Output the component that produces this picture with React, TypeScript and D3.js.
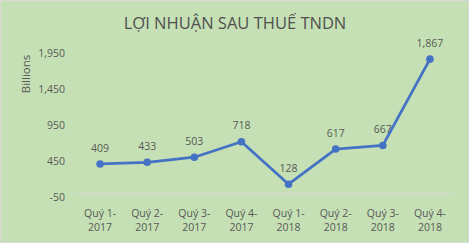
import React from "react";
import * as d3 from "d3";

const categories = ["Quý 1-2017", "Quý 2-2017", "Quý 3-2017", "Quý 4-2017", "Quý 1-2018", "Quý 2-2018", "Quý 3-2018", "Quý 4-2018"];
const profits = [409, 433, 503, 718, 128, 617, 667, 1867];
const yTicks = [-50, 450, 950, 1450, 1950];
const title = "LỢI NHUẬN SAU THUẾ TNDN";
const unitLabel = "Billions";

const W = 469;
const H = 243;
const FONT = "'Open Sans', 'Noto Sans', sans-serif";
const TEXT = "#595959";

export default function App() {
  const x = d3.scaleBand<string>().domain(categories).range([76.5, 453.5]);
  const y = d3.scaleLinear().domain([-50, 1950]).range([197, 53.2]);
  const line = d3
    .line<number>()
    .x((_, i) => (x(categories[i]) as number) + x.bandwidth() / 2)
    .y((d) => y(d));
  const f = d3.format(",");
  const fmt = (v: number) => f(v).replace("\u2212", "-");

  return (
    <svg width={W} height={H} style={{ position: "absolute", left: 0, top: 0 }} fontFamily={FONT}>
      <rect x={0.5} y={0.5} width={W - 1} height={H - 1} fill="#C5E0B4" stroke="#D9D9D9" />
      <text x={235} y={29} textAnchor="middle" fontSize={16.5} fill="#505050" fontWeight={400}>
        {title}
      </text>
      <text
        transform={`translate(30,74) rotate(-90)`}
        textAnchor="middle"
        fontSize={11.5}
        fill={TEXT}
      >
        {unitLabel}
      </text>
      {yTicks.map((t) => (
        <text key={t} x={65} y={y(t)} dy="0.35em" textAnchor="end" fontSize={10.5} fill={TEXT}>
          {fmt(t)}
        </text>
      ))}
      <line x1={x.range()[0]} x2={x.range()[1]} y1={y(0)} y2={y(0)} stroke="#D9D9D9" strokeWidth={1} />
      {categories.map((c) => {
        const [q, yr] = c.split("-");
        const cx = (x(c) as number) + x.bandwidth() / 2;
        return (
          <text key={c} x={cx} textAnchor="middle" fontSize={10.5} fill={TEXT}>
            <tspan x={cx} y={216.5}>{q}-</tspan>
            <tspan x={cx} y={230.5}>{yr}</tspan>
          </text>
        );
      })}
      <path d={line(profits) || ""} fill="none" stroke="#4472C4" strokeWidth={2.75} strokeLinejoin="round" />
      {profits.map((v, i) => {
        const cx = (x(categories[i]) as number) + x.bandwidth() / 2;
        return (
          <g key={i}>
            <circle cx={cx} cy={y(v)} r={3.8} fill="#4472C4" />
            <text x={cx} y={y(v) - 16} dy="0.35em" textAnchor="middle" fontSize={10.5} fill={TEXT}>
              {fmt(v)}
            </text>
          </g>
        );
      })}
    </svg>
  );
}
